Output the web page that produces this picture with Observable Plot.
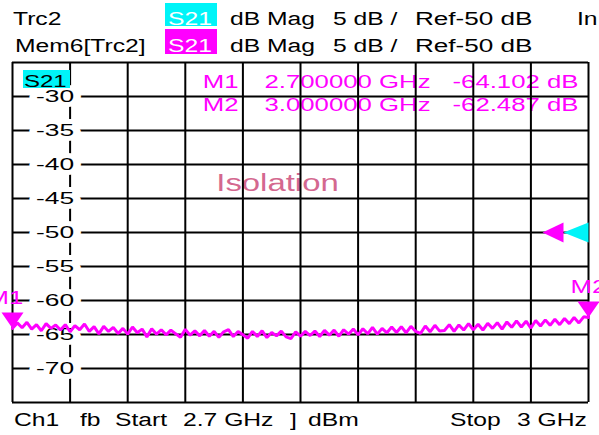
<!DOCTYPE html>
<html><head><meta charset="utf-8">
<script src="https://cdn.jsdelivr.net/npm/d3@7"></script>
<script src="https://cdn.jsdelivr.net/npm/@observablehq/plot@0.6"></script>
<style>
body{margin:0;background:#fff;width:599px;height:435px;overflow:hidden;font-family:"Liberation Sans",Arial,sans-serif;}
.bar{position:relative;width:599px;overflow:hidden;}
.t{position:absolute;font-size:18px;line-height:18px;white-space:nowrap;transform-origin:0 0;transform:scaleX(1.37);color:#000;}
.box{position:absolute;}
#chart{position:relative;width:599px;height:352px;}
#chart svg{display:block;}
</style></head><body>
<div id="hdr" class="bar" style="height:56px"></div>
<div id="chart"></div>
<div id="ftr" class="bar" style="height:27px"></div>
<script>
// ---------- data ----------
const sweepStart = 2.7, sweepStop = 3.0;           // GHz
const refLevel = -50;                               // dB
const freqGrid = [2.70, 2.73, 2.76, 2.79, 2.82, 2.85, 2.88, 2.91, 2.94, 2.97, 3.00];
const dbGrid = [-75, -70, -65, -60, -55, -50, -45, -40, -35, -30, -25];
const dbLabels = [-30, -35, -40, -45, -50, -55, -60, -65, -70];
const s21Trace = [
  -64.10, -63.30, -64.00, -63.20, -64.20, -63.55, -64.45, -63.40, -64.10, -63.60,
  -64.35, -63.55, -64.60, -63.70, -64.30, -63.45, -64.55, -63.85, -64.90, -63.80,
  -64.55, -63.95, -64.85, -64.10, -64.95, -63.90, -64.75, -64.20, -65.35, -64.15,
  -64.95, -64.30, -65.05, -64.35, -64.90, -65.40, -64.25, -65.10, -64.45, -65.20,
  -64.40, -65.25, -64.55, -65.40, -64.60, -64.30, -65.30, -64.55, -65.05, -65.55,
  -64.55, -65.30, -64.45, -65.45, -64.70, -65.20, -64.50, -65.35, -65.60, -64.60,
  -65.25, -64.55, -65.15, -64.50, -65.30, -64.40, -65.10, -64.35, -65.25, -64.30,
  -64.95, -64.20, -65.05, -64.15, -64.90, -63.95, -64.95, -64.10, -64.75, -63.90,
  -64.70, -63.85, -64.75, -63.80, -64.55, -64.85, -63.75, -64.60, -63.65, -64.50,
  -64.40, -63.55, -64.55, -63.60, -64.35, -63.40, -64.30, -63.50, -64.35, -63.35,
  -64.10, -63.25, -64.20, -63.15, -63.95, -63.00, -63.90, -63.05, -64.05, -62.95,
  -63.75, -62.85, -63.65, -62.75, -63.55, -62.65, -63.40, -62.50, -63.30, -62.40, -62.49
];
const markerNames = ["M1", "M2"];
const markerFreqs = [2.7, 3.0];
const markerDb = [-64.102, -62.487];
const traceTag = "S21";
const noteText = "Isolation";
const header1Text = ["Trc2", "dB Mag", "5 dB /", "Ref-50 dB", "In"];
const header2Text = ["Mem6[Trc2]", "dB Mag", "5 dB /", "Ref-50 dB"];
const footerText = ["Ch1", "fb", "Start", "2.7 GHz", "]", "dBm", "Stop", "3 GHz"];

// ---------- layout (styles only) ----------
const header1X = [13, 230, 333, 415, 577];
const header2X = [15, 230, 333, 415];
const footerX = [14, 80, 115, 183, 290, 308, 450, 517];
const markerLabelDx = [-7, 0];
const MAG = "#ff00ff", CYAN = "#00f4f8";

// sweep points from instrument start/stop
const trace = s21Trace.map((db, i) => ({f: sweepStart + (sweepStop - sweepStart) * i / (s21Trace.length - 1), db}));
const markers = markerNames.map((name, i) => ({name, freq: markerFreqs[i], db: markerDb[i]}));

// ---------- header / footer ----------
function addText(parent, text, left, top, color) {
  const s = document.createElement("div");
  s.className = "t"; s.textContent = text;
  s.style.left = left + "px"; s.style.top = top + "px";
  if (color) s.style.color = color;
  parent.appendChild(s); return s;
}
function addBox(parent, left, top, w, h, bg) {
  const b = document.createElement("div");
  b.className = "box";
  Object.assign(b.style, {left: left + "px", top: top + "px", width: w + "px", height: h + "px", background: bg});
  parent.appendChild(b);
}
const hdr = document.getElementById("hdr");
header1Text.forEach((t, i) => { const e = addText(hdr, t, header1X[i], 10); if (t.startsWith("Ref")) e.style.transform = "scaleX(1.45)"; });
addBox(hdr, 165, 3, 52, 23, CYAN); addText(hdr, traceTag, 168, 10, "#fff");
header2Text.forEach((t, i) => { const e = addText(hdr, t, header2X[i], 36.5); if (t.startsWith("Ref")) e.style.transform = "scaleX(1.45)"; });
addBox(hdr, 165, 29, 52, 25, MAG); addText(hdr, traceTag, 168, 36.5, "#fff");
const ftr = document.getElementById("ftr");
footerText.forEach((t, i) => addText(ftr, t, footerX[i], 3));

// ---------- chart ----------
const downTri = {draw(ctx) { ctx.moveTo(-11, -16); ctx.lineTo(11, -16); ctx.lineTo(0, 0); ctx.closePath(); }};
const refMagTri = {draw(ctx) { ctx.moveTo(-46, 0); ctx.lineTo(-25, -10); ctx.lineTo(-25, 10); ctx.closePath(); }};
const refCyanTri = {draw(ctx) { ctx.moveTo(-25, 0); ctx.lineTo(0, -10); ctx.lineTo(0, 10); ctx.closePath(); }};
const FONT = "Liberation Sans, Arial, sans-serif";

const readoutMarks = markers.flatMap((m, i) => {
  const dy = 25 + 23 * i;
  const common = {frameAnchor: "top-right", lineAnchor: "bottom", textAnchor: "end", fill: MAG, fontSize: 18, fontFamily: FONT, dy};
  return [
    Plot.text([m], {...common, text: d => d.name, dx: -350}),
    Plot.text([m], {...common, text: d => d.freq.toFixed(6) + " GHz", dx: -158}),
    Plot.text([m], {...common, text: d => d.db.toFixed(3) + " dB", dx: -10})
  ];
});
const markerLabelMarks = markers.map((m, i) =>
  Plot.text([m], {x: "freq", y: "db", text: "name", dy: -24, dx: markerLabelDx[i], lineAnchor: "bottom", fill: MAG, fontSize: 18, fontFamily: FONT}));

const svg = Plot.plot({
  width: 599, height: 352,
  marginTop: 6, marginBottom: 6, marginLeft: 12, marginRight: 11,
  x: {domain: [sweepStart, sweepStop], axis: null},
  y: {domain: [-75, -25], axis: null},
  style: {fontFamily: FONT, background: "white", overflow: "hidden"},
  marks: [
    ...readoutMarks,
    Plot.text([noteText], {frameAnchor: "top-left", dx: 265, dy: 128, text: d => d, textAnchor: "middle", lineAnchor: "bottom", fill: "#d4688f", fontSize: 23, fontFamily: FONT}),
    Plot.ruleX(freqGrid, {stroke: "#000", strokeWidth: 2}),
    Plot.ruleY(dbGrid, {stroke: "#000", strokeWidth: 2}),
    Plot.text(dbLabels, {x: () => freqGrid[1], y: d => d, text: d => "-" + Math.abs(d), textAnchor: "end", lineAnchor: "middle", dx: 4, fill: "#000", stroke: "#fff", strokeWidth: 10, strokeLinejoin: "round", paintOrder: "stroke", fontSize: 17, fontFamily: FONT}),
    Plot.line(trace, {x: "f", y: "db", stroke: MAG, strokeWidth: 3, strokeLinejoin: "bevel"}),
    Plot.dot(markers, {x: "freq", y: "db", symbol: downTri, fill: MAG, stroke: "none"}),
    ...markerLabelMarks,
    Plot.dot([refLevel], {x: () => sweepStop, y: d => d, symbol: refMagTri, fill: MAG, stroke: "none"}),
    Plot.dot([refLevel], {x: () => sweepStop, y: d => d, symbol: refCyanTri, fill: CYAN, stroke: "none"})
  ]
});
const chart = document.getElementById("chart");
chart.appendChild(svg);

// horizontally widen glyphs like the instrument's font
svg.querySelectorAll("text").forEach(t => {
  const L = t.getComputedTextLength();
  const g = t.closest("[font-size]");
  const s = g && g.getAttribute("font-size") === "17" ? 1.55 : 1.43;
  if (L > 0) { t.setAttribute("textLength", (L * s).toFixed(1)); t.setAttribute("lengthAdjust", "spacingAndGlyphs"); }
});

// S21 trace tag in the diagram corner
addBox(chart, 23, 14, 47, 18, CYAN);
const tag = addText(chart, traceTag, 24, 16.5);
tag.style.fontSize = "16px"; tag.style.transform = "scaleX(1.5)";
</script>
</body></html>
